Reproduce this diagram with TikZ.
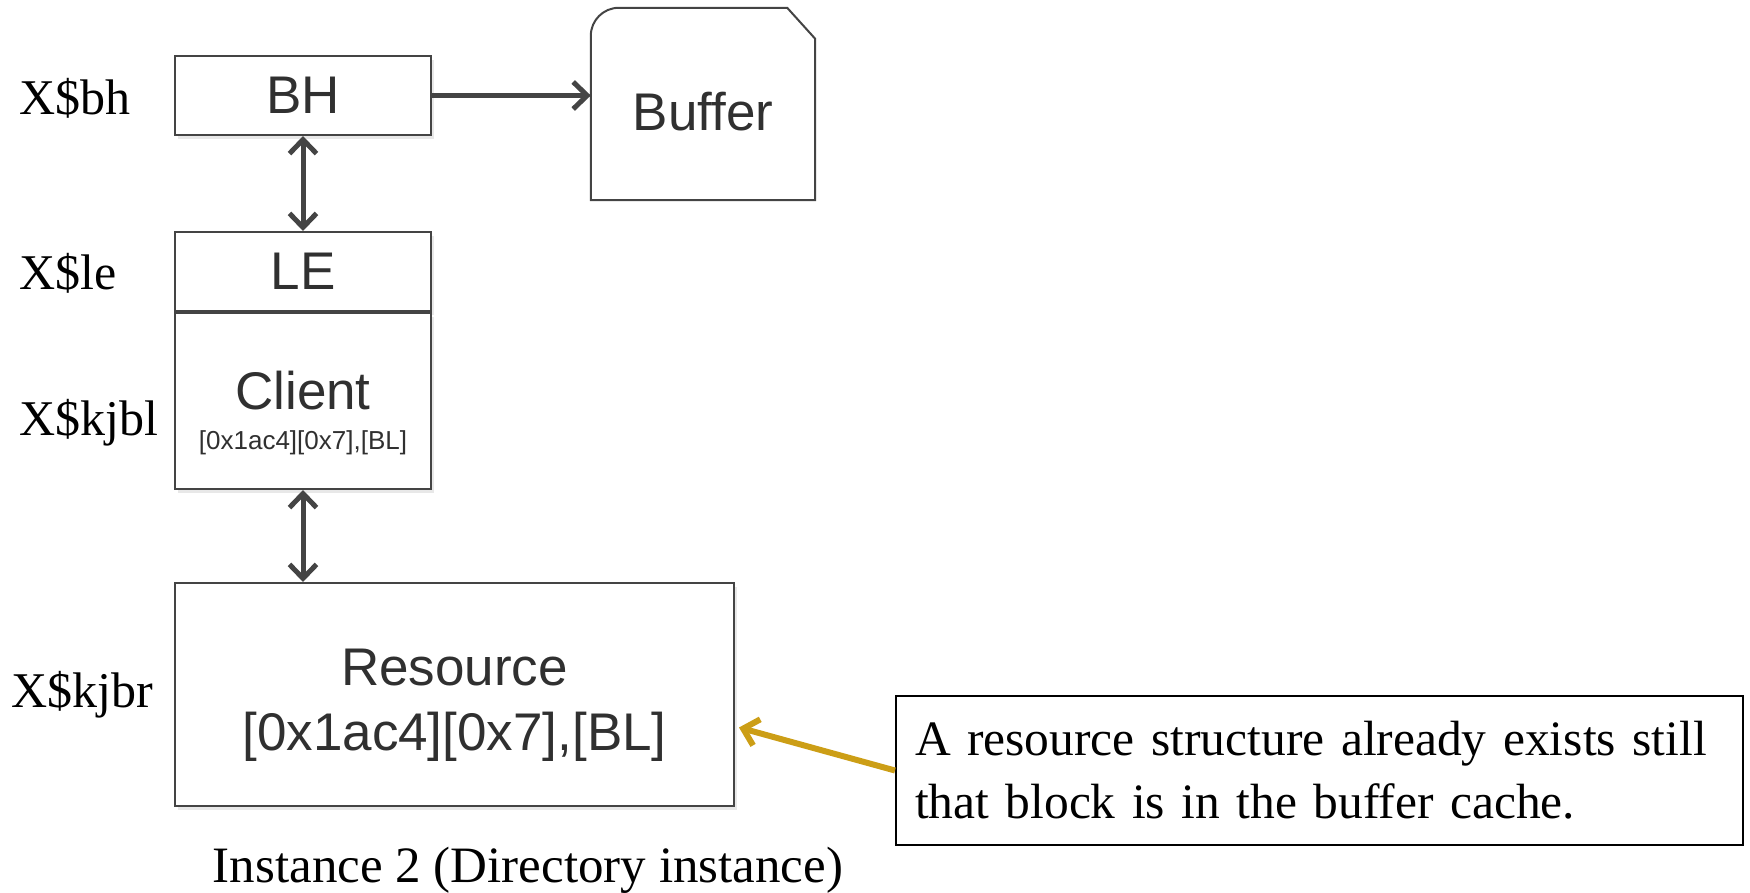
\documentclass[tikz,border=0pt]{standalone}
\usepackage{fontspec}
\setmainfont{Liberation Serif}
\setsansfont{Liberation Sans}
\usetikzlibrary{arrows.meta,positioning,calc,shadows}
\definecolor{boxgray}{RGB}{68,68,68}
\definecolor{inkgray}{RGB}{48,48,48}
\definecolor{notegold}{RGB}{204,158,22}
\tikzset{
    block/.style={
        rectangle,
        draw=boxgray,
        line width=2pt,
        fill=white,
        text=inkgray,
        inner sep=0pt,
        align=center,
        font=\sffamily\fontsize{53}{65}\selectfont,
        drop shadow={opacity=0.18,shadow xshift=3pt,shadow yshift=-4pt},
    },
    regname/.style={
        anchor=base west,
        inner sep=0pt,
        font=\fontsize{50}{60}\selectfont,
    },
    note/.style={
        rectangle,
        draw=black,
        line width=2pt,
        fill=white,
        inner xsep=19pt,
        align=left,
        font=\fontsize{49.5}{63}\selectfont,
    },
    link/.style={
        draw=boxgray,
        line width=5pt,
        -{Straight Barb[length=14pt,width=27pt]},
    },
    both/.style={
        link,
        {Straight Barb[length=14pt,width=27pt]}-{Straight Barb[length=14pt,width=27pt]},
    },
}
\begin{document}
\begin{tikzpicture}[x=1pt,y=-1pt]
    \useasboundingbox (0,0) rectangle (1750,893);
    % blocks of instance 2
    \node [block,minimum width=256pt,minimum height=79pt] at (303,95.5) (bh) {BH};
    \node [block,minimum width=256pt,minimum height=79pt] at (303,271.5) (le) {LE};
    \node [block,minimum width=256pt,minimum height=176pt,below=0pt of le] (client) {\rule{0pt}{62pt}Client\\[-25pt]{\fontsize{26}{30}\selectfont [0x1ac4][0x7],[BL]}};
    \node [block,minimum width=559pt,minimum height=223pt] at (454.5,694.5) (res) {\rule{0pt}{58pt}Resource\\{[0x1ac4][0x7],[BL]}};
    % buffer
    \node [minimum width=224pt,minimum height=192pt,inner sep=0pt] at (703,104) (buffer) {};
    \fill [black,opacity=0.18,xshift=3pt,yshift=-4pt] (buffer.south west) -- ([yshift=-28pt]buffer.north west)
        arc[start angle=180,end angle=90,radius=28pt] -- ([xshift=-28pt]buffer.north east)
        -- ([yshift=-31pt]buffer.north east) -- (buffer.south east) -- cycle;
    \draw [boxgray,line width=2pt,fill=white] (buffer.south west) -- ([yshift=-28pt]buffer.north west)
        arc[start angle=180,end angle=90,radius=28pt] -- ([xshift=-28pt]buffer.north east)
        -- ([yshift=-31pt]buffer.north east) -- (buffer.south east) -- cycle;
    \node [text=inkgray,font=\sffamily\fontsize{53}{65}\selectfont] at (703,112) (buftext) {Buffer};
    \draw [link] (bh) -- (bh -| buffer.west);
    \draw [both] (bh) -- (le);
    \draw [both] (client) -- (client |- res.north);
    % structure names
    \node [regname] at (19,115) (bhname) {X\$bh};
    \node [regname] at (19,290) (lename) {X\$le};
    \node [regname] at (19,435) (kjblname) {X\$kjbl};
    \node [regname] at (11,707) (kjbrname) {X\$kjbr};
    % remark
    \node [note,anchor=north west,minimum width=847pt,minimum height=149pt,text width=809pt] at (895,695) (remark) {A resource structure already exists still\\that block is in the buffer cache.};
    \coordinate (restip) at ($(res.east)+(4,33)$);
    \draw [link,draw=notegold,line width=6pt] (remark.west) -- (restip);
    \node [anchor=base,inner sep=0pt,font=\fontsize{51}{60}\selectfont] at (528,882) (caption) {Instance 2 (Directory instance)};
\end{tikzpicture}
\end{document}
